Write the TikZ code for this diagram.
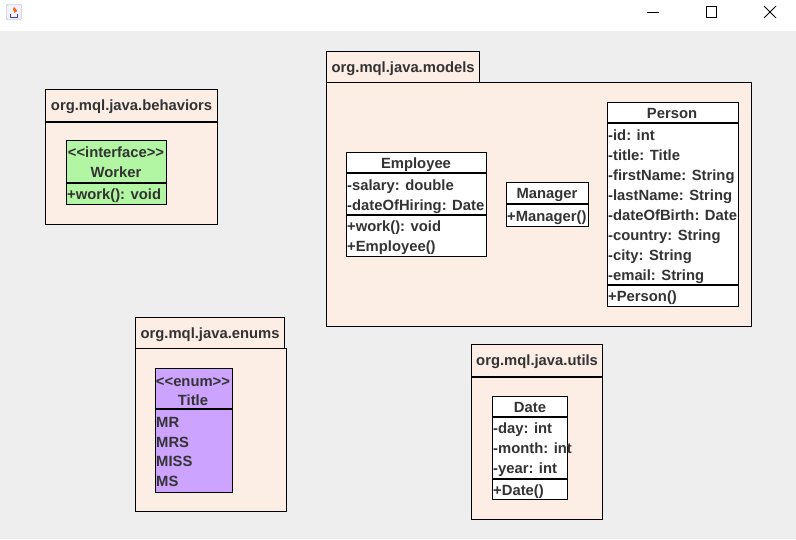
\documentclass[tikz,border=0pt]{standalone}
\usepackage{fontspec}
\setmainfont{Liberation Sans}[Ligatures=TeXOff]
\definecolor{winbg}{RGB}{238,238,238}
\definecolor{pkgfill}{RGB}{252,237,229}
\definecolor{ifacefill}{RGB}{178,245,163}
\definecolor{enumfill}{RGB}{204,163,255}
\definecolor{txt}{RGB}{51,51,51}
\begin{document}
\begin{tikzpicture}[x=1pt, y=-1pt,
    every node/.style={font=\fontsize{14.8}{17}\selectfont\bfseries, text=txt,
        inner sep=0pt, text height=10.6pt, text depth=0pt},
    pkgbody/.style={draw, fill=pkgfill, line width=1.2pt, anchor=north west},
    pkgtab/.style={draw, fill=pkgfill, line width=1.2pt, anchor=north west},
    classbox/.style={draw, line width=1.2pt, anchor=north west},
    sep/.style={line width=1.2pt},
    attr/.style={anchor=west}
]
\useasboundingbox (0,0) rectangle (796,539);

% Fenetre
\fill[white] (0,0) rectangle (796,31);
\fill[winbg] (0,31) rectangle (796,539);
\draw[gray!70, rounded corners=1pt, fill=blue!5] (6.5,4.5) rectangle (21.5,19.5);
\fill[orange!80!red] (14,7) .. controls (11,11) and (16,11) .. (14,13) .. controls (18,11) .. (14,7);
\draw[blue!50!gray, line width=0.8pt] (10,14) -- (10,17) -- (17,17) -- (17,14);
\draw[line width=0.8pt] (647,12.5) -- (659,12.5);
\draw[line width=0.8pt] (706.5,6.5) rectangle (716.5,17.5);
\draw[line width=0.8pt] (764,6) -- (776,18) (776,6) -- (764,18);

% org.mql.java.behaviors
\node[pkgbody, minimum width=172pt, minimum height=103pt] (behbody) at (45,121) {};
\node[pkgtab, minimum width=172pt, minimum height=32pt] (behtab) at (45,89) {org.mql.java.behaviors};
\draw[line width=2.4pt] (behtab.south west) -- (behtab.south east);
\node[classbox, fill=ifacefill, minimum width=100pt, minimum height=64pt] (worker) at (66,140) {};
\draw[sep] (66,183) -- (166,183);
\node (workerst) at (116,152) {<<interface>>};
\node (workername) at (116,172) {Worker};
\node[attr] (workerm) at (67,194) {+work(): void};

% org.mql.java.models
\node[pkgbody, minimum width=425pt, minimum height=244pt] (modbody) at (326,82) {};
\node[pkgtab, minimum width=153pt, minimum height=31pt] (modtab) at (326,51) {org.mql.java.models};

% Employee
\node[classbox, fill=white, minimum width=140pt, minimum height=104pt] (employee) at (346,152) {};
\draw[sep] (346,173) -- (486,173);
\draw[sep] (346,215) -- (486,215);
\node (employeename) at (416,163) {Employee};
\foreach \a [count=\i from 0] in {-salary: double, -dateOfHiring: Date} {
    \node[attr] (employeea\i) at (347,185+\i*20) {\a};
}
\foreach \m [count=\i from 0] in {+work(): void, +Employee()} {
    \node[attr] (employeem\i) at (347,226+\i*20) {\m};
}

% Manager
\node[classbox, fill=white, minimum width=82pt, minimum height=44pt] (manager) at (506,182) {};
\draw[sep] (506,204) -- (588,204);
\node (managername) at (547,193) {Manager};
\node[attr] (managerm) at (507,216) {+Manager()};

% Person
\node[classbox, fill=white, minimum width=131pt, minimum height=204pt] (person) at (607,102) {};
\draw[sep] (607,123) -- (738,123);
\draw[sep] (607,285) -- (738,285);
\node (personname) at (672,113) {Person};
\foreach \a [count=\i from 0] in {-id: int, -title: Title, -firstName: String, -lastName: String,
    -dateOfBirth: Date, -country: String, -city: String, -email: String} {
    \node[attr] (persona\i) at (608,135+\i*20) {\a};
}
\node[attr] (personm) at (608,296) {+Person()};

% org.mql.java.enums
\node[pkgbody, minimum width=151pt, minimum height=163pt] (enumbody) at (135,348) {};
\node[pkgtab, minimum width=149pt, minimum height=31pt] (enumtab) at (135,317) {org.mql.java.enums};
\node[classbox, fill=enumfill, minimum width=77pt, minimum height=124pt] (title) at (155,368) {};
\draw[sep] (155,409) -- (232,409);
\node (titlest) at (193,381) {<<enum>>};
\node (titlename) at (193,400) {Title};
\foreach \v [count=\i from 0] in {MR, MRS, MISS, MS} {
    \node[attr] (titlev\i) at (156,422+\i*19.7) {\v};
}

% org.mql.java.utils
\node[pkgbody, minimum width=131pt, minimum height=143pt] (utilbody) at (471,376) {};
\node[pkgtab, minimum width=131pt, minimum height=32pt] (utiltab) at (471,344) {org.mql.java.utils};
\draw[line width=2.4pt] (utiltab.south west) -- (utiltab.south east);
\node[classbox, fill=white, minimum width=75pt, minimum height=103pt] (date) at (492,396) {};
\draw[sep] (492,417) -- (567,417);
\draw[sep] (492,479) -- (567,479);
\node (datename) at (530,407) {Date};
\foreach \a [count=\i from 0] in {-day: int, -month: int, -year: int} {
    \node[attr] (datea\i) at (493,428+\i*20) {\a};
}
\node[attr] (datem) at (493,490) {+Date()};

\end{tikzpicture}
\end{document}
